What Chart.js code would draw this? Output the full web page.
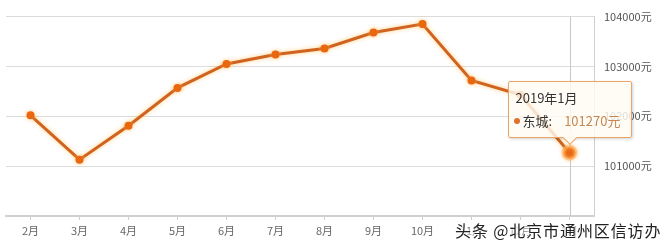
<!DOCTYPE html>
<html><head><meta charset="utf-8">
<script src="https://cdn.jsdelivr.net/npm/chart.js@4/dist/chart.umd.min.js"></script>
<style>
html,body{margin:0;padding:0;background:#fff;overflow:hidden;}
#wrap{position:relative;width:668px;height:243px;font-family:"Noto Sans CJK SC","Noto Sans",sans-serif;}
canvas{display:block;}
#tip{position:absolute;width:122px;height:55px;background:rgba(255,251,243,0.82);border:1px solid #eba466;border-radius:2px;box-shadow:1px 1px 3px rgba(0,0,0,0.18);font-size:13px;color:#333;display:none;}
#tip .t{position:absolute;left:7px;top:6px;white-space:nowrap;}
#tip .b{position:absolute;left:5px;top:29px;white-space:nowrap;}
#tip .dot{display:inline-block;width:6px;height:6px;border-radius:50%;background:#e2702a;margin-right:3px;vertical-align:middle;position:relative;top:-1px;}
#tip .v{color:#c68752;margin-left:12px;}
#tip .caret{position:absolute;left:50%;bottom:-6px;margin-left:-5px;width:9px;height:9px;background:rgba(255,251,243,0.95);border-right:1px solid #eba466;border-bottom:1px solid #eba466;transform:rotate(45deg);}
#wm{position:absolute;left:455px;top:218px;font-size:16px;color:#222;white-space:nowrap;letter-spacing:0.9px;text-shadow:0 0 2px #fff,0 0 3px #fff,0 0 4px #fff,0 0 5px #fff;}
</style></head><body>
<div id="wrap"><canvas id="c" width="668" height="243" style="width:668px;height:243px"></canvas>
<div id="tip"><div class="t"></div><div class="b"><span class="dot"></span><span class="n"></span><span class="v"></span></div><div class="caret"></div></div>
<div id="wm">头条 @北京市通州区信访办</div></div>
<script>
const periods = ['2018年2月','2018年3月','2018年4月','2018年5月','2018年6月','2018年7月','2018年8月','2018年9月','2018年10月','2018年11月','2018年12月','2019年1月'];
const monthLabels = ['2月','3月','4月','5月','6月','7月','8月','9月','10月','11月','12月','1月'];
const seriesName = '东城';
const prices = [102020,101130,101810,102570,103050,103240,103360,103680,103850,102720,102430,101270];
const yTickValues = [101000,102000,103000,104000];
const yMin = 100000, yMax = 104000, yStep = 1000;
const unit = '元';
const highlightIndex = 11;

const glow = {
  id:'glow',
  beforeDatasetsDraw(chart){
    const a = chart.getActiveElements();
    if(a.length){
      const x = a[0].element.x, ctx = chart.ctx, ca = chart.chartArea;
      ctx.save();ctx.strokeStyle='#c8c8c8';ctx.lineWidth=1;
      ctx.beginPath();ctx.moveTo(Math.round(x)+0.5,ca.top);ctx.lineTo(Math.round(x)+0.5,ca.bottom);ctx.stroke();ctx.restore();
    }
    chart.ctx.save();
    chart.ctx.shadowColor='rgba(255,190,90,0.75)';
    chart.ctx.shadowBlur=4;
  },
  afterDatasetsDraw(chart){ chart.ctx.restore(); }
};

const chart = new Chart(document.getElementById('c'), {
  type:'line',
  data:{labels:monthLabels, datasets:[{
    label:seriesName, data:prices,
    borderColor:'#d0631f', borderWidth:3, tension:0,
    pointRadius:4, pointBackgroundColor:'#e8670f', pointBorderColor:'#e8670f', pointBorderWidth:0,
    pointHoverRadius:6, pointHoverBackgroundColor:'#e8600c', pointHoverBorderColor:'rgba(255,170,90,0.55)', pointHoverBorderWidth:4
  }]},
  options:{
    responsive:false, animation:false, devicePixelRatio:1,
    layout:{padding:{left:3,top:8,right:0,bottom:0}},
    events:[],
    plugins:{legend:{display:false}, tooltip:{enabled:false}},
    scales:{
      x:{offset:true,
        grid:{display:true,drawOnChartArea:false,drawTicks:true,tickLength:4,offset:false,color:'#ccc'},
        border:{display:true,color:'#d0d0d0',width:2},
        ticks:{color:'#666',font:{size:11,family:'"Noto Sans CJK SC",sans-serif'},padding:4,maxRotation:0,autoSkip:false},
        afterFit(s){s.height=27;s.paddingLeft=0;s.paddingRight=0;}
      },
      y:{position:'right',min:yMin,max:yMax,
        grid:{color:'#dcdcdc',drawTicks:false},
        border:{display:true,color:'#d0d0d0'},
        ticks:{stepSize:yStep,padding:10,color:'#555',font:{size:11,family:'"Noto Sans CJK SC",sans-serif'},
          callback:v=>yTickValues.includes(v)?v+unit:''},
        afterFit(s){s.width=74;}
      }
    }
  },
  plugins:[glow]
});
chart.setActiveElements([{datasetIndex:0,index:highlightIndex}]);
chart.update('none');
const pt = chart.getDatasetMeta(0).data[highlightIndex];
const tip = document.getElementById('tip');
tip.querySelector('.t').textContent = periods[highlightIndex];
tip.querySelector('.n').textContent = seriesName + ':';
tip.querySelector('.v').textContent = prices[highlightIndex] + unit;
tip.style.display='block';
tip.style.left = (pt.x - 62) + 'px';
tip.style.top = (pt.y - 72) + 'px';
</script>
</body></html>
